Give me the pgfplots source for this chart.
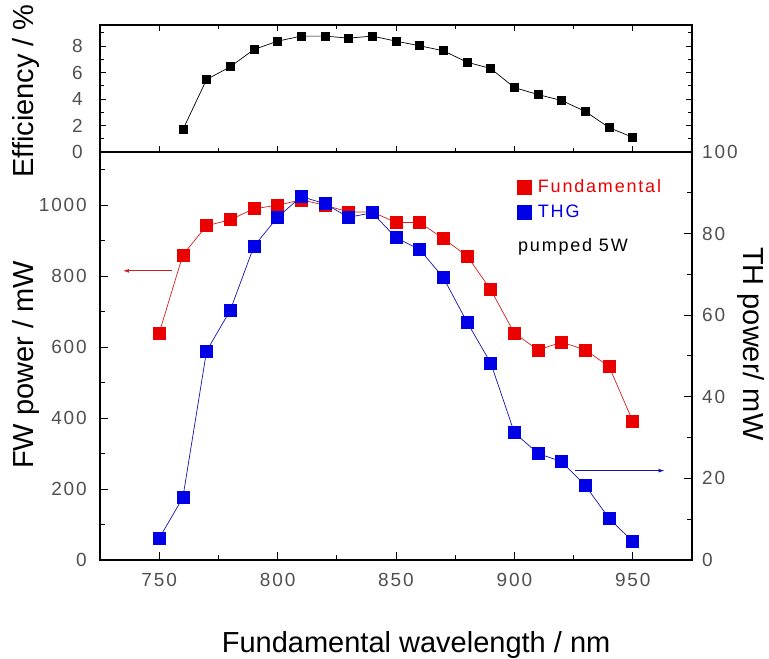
\documentclass[border=0pt]{standalone}
\usepackage{pgfplots}
\pgfplotsset{compat=1.18}
\usepackage{pgfplotstable}
\usepackage{fontspec}
\setmainfont{Liberation Sans}
\newfontfamily\tickfont[LetterSpace=10]{Liberation Sans}
\usetikzlibrary{arrows.meta}
\definecolor{tickgray}{RGB}{80,80,80}
\definecolor{myred}{RGB}{235,0,0}
\definecolor{myblue}{RGB}{0,0,230}
\definecolor{linered}{RGB}{210,30,30}
\definecolor{lineblue}{RGB}{20,20,170}

\pgfplotstableread{
x eff
760 1.69
770 5.48
780 6.44
790 7.75
800 8.38
810 8.76
820 8.76
830 8.61
840 8.76
850 8.38
860 8.03
870 7.65
880 6.79
890 6.31
900 4.87
910 4.34
920 3.89
930 3.06
940 1.84
950 1.11
}\efftable

\pgfplotstableread{
x fw
750 640
760 860
770 942
780 959
790 990
800 1000
810 1015
820 1000
830 981
840 981
850 951
860 951
870 906
880 857
890 762
900 639
910 592
920 614
930 592
940 545
950 391
}\fwtable

\pgfplotstableread{
x th
750 5.3
760 15.3
770 51.2
780 61.2
790 76.9
800 84.0
810 89.1
820 87.3
830 84.0
840 85.1
850 79.0
860 76.1
870 69.2
880 58.3
890 48.3
900 31.2
910 26.1
920 24.1
930 18.2
940 10.2
950 4.5
}\thtable

\pgfplotsset{
 common/.style={
  scale only axis, width=592pt, xmin=725, xmax=975,
  tick align=inside,
  axis line style={line width=1.2pt},
  major tick length=8pt, minor tick length=5pt,
  every tick/.style={line width=1pt, black},
  /pgf/number format/assume math mode=true,
  /pgf/number format/1000 sep={},
  tick label style={font=\tickfont\fontsize{19}{19}\selectfont, text=tickgray},
  label style={font=\fontsize{29}{29}\selectfont},
  clip=false,
 }
}

\begin{document}
\begin{tikzpicture}
\path[use as bounding box] (-100pt,-99pt) rectangle (669pt,560pt);
% bottom left axis (FW)
\begin{axis}[common, at={(0,0)}, anchor=south west, height=408pt,
  ymin=0, ymax=1150,
  xtick={750,800,...,950}, minor xtick={775,825,...,925}, xtick pos=left,
  ytick={0,200,...,1000}, minor ytick={100,300,...,1100}, ytick pos=left,
  xticklabel style={anchor=north, inner sep=0pt, yshift=-13pt},
  yticklabel style={anchor=east, inner sep=0pt, xshift=-13pt},
  xlabel={Fundamental wavelength / nm},
  xlabel style={at={(axis description cs:0.534,-0.2255)}, anchor=base},
  ylabel={FW power / mW},
  ylabel style={at={(axis description cs:-0.1118,0.478)}, anchor=base, rotate=0},
]
\addplot[linered, line width=0.7pt, mark=square*, mark size=6pt,
  mark options={myred, solid}] table[x=x, y=fw] {\fwtable};
\addplot[linered, line width=0.9pt, -{Latex[length=6pt,width=4pt]}]
  coordinates {(755.4,815) (734.7,815)};
\end{axis}
% bottom right axis (TH)
\begin{axis}[common, at={(0,0)}, anchor=south west, height=408pt,
  ymin=0, ymax=100, hide x axis,
  ytick={0,20,...,100}, minor ytick={10,30,...,90}, ytick pos=right,
  yticklabel style={anchor=west, inner sep=0pt, xshift=10pt},
  ylabel={TH power/ mW},
  ylabel style={at={(axis description cs:1.087,0.53)}, anchor=base, rotate=180},
  legend style={at={(axis description cs:0.704,0.935)}, anchor=north west,
    draw=none, fill=none, inner sep=0pt, row sep=9pt,
    font=\tickfont\fontsize{18}{18}\selectfont,
    nodes={inner xsep=2pt, inner ysep=1pt},
    /tikz/every odd column/.append style={column sep=5pt}},
  legend cell align=left,
]
\addlegendimage{only marks, mark=square*, mark size=7pt, myred}
\addlegendentry{\textcolor{myred}{Fundamental}}
\addlegendimage{only marks, mark=square*, mark size=7pt, myblue}
\addlegendentry{\textcolor{myblue}{THG}}
\addplot[lineblue, line width=0.7pt, mark=square*, mark size=6pt,
  mark options={myblue, solid}, forget plot] table[x=x, y=th] {\thtable};
\addplot[lineblue, line width=0.9pt, -{Latex[length=6pt,width=4pt]}, forget plot]
  coordinates {(925.4,21.9) (963.4,21.9)};
\node[anchor=base west, font=\tickfont\fontsize{18}{18}\selectfont, inner sep=0pt]
  at (axis description cs:0.706,0.757) {pumped 5W};
\end{axis}
% top axis (efficiency)
\begin{axis}[common, at={(0,408pt)}, anchor=south west, height=127pt,
  ymin=0, ymax=9.6,
  xtick={750,800,...,950}, minor xtick={775,825,...,925}, xtick pos=both,
  xticklabels={},
  ytick={0,2,...,8}, minor ytick={1,3,...,9}, ytick pos=both, yticklabel pos=left,
  major tick length=6pt, minor tick length=4pt,
  yticklabel style={anchor=east, inner sep=0pt, xshift=-17pt},
  ylabel={Efficiency / \%},
  ylabel style={at={(axis description cs:-0.1118,0.48)}, anchor=base, rotate=0},
]
\addplot[black, line width=0.7pt, mark=square*, mark size=4pt,
  mark options={black, solid}] table[x=x, y=eff] {\efftable};
\end{axis}
\end{tikzpicture}
\end{document}
